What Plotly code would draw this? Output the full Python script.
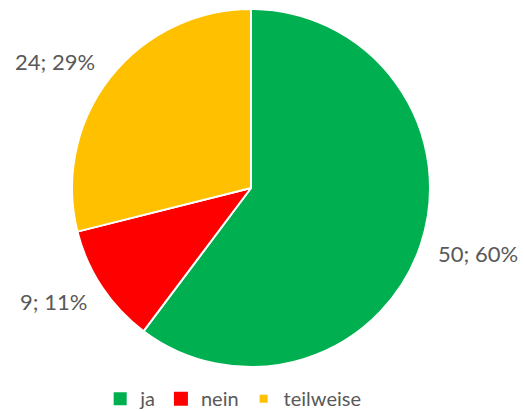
import math
import plotly.graph_objects as go

labels = ["ja", "nein", "teilweise"]
values = [50, 9, 24]
colors = ["#00B050", "#FF0000", "#FFC000"]
legend_sizes = [13, 14, 8]

W, H = 524, 412
CX, CY, R = 251, 188, 179  # pie centre / radius in pixels
FONT = "Lato, Roboto, sans-serif"
GREY = "#595959"

total = sum(values)
texts = [f"{v}; {round(v / total * 100)}%" for v in values]

fig = go.Figure()
fig.add_trace(go.Pie(
    labels=labels,
    values=values,
    textinfo="none",
    sort=False,
    direction="clockwise",
    rotation=0,
    showlegend=False,
    marker=dict(colors=colors, line=dict(color="white", width=2)),
    domain=dict(x=[(CX - R) / W, (CX + R) / W], y=[(H - CY - R) / H, (H - CY + R) / H]),
    hoverinfo="label+value+percent",
))

# legend entries as square markers
for lab, col, sz in zip(labels, colors, legend_sizes):
    fig.add_trace(go.Scatter(
        x=[None], y=[None], mode="markers", name=lab,
        marker=dict(symbol="square", size=sz, color=col),
    ))

# data labels outside the slices
start = 0
for v, t in zip(values, texts):
    mid = (start + v / 2) / total * 2 * math.pi
    start += v
    dx, dy = math.sin(mid), -math.cos(mid)
    px_ = CX + 1.09 * R * dx
    py_ = CY + 1.15 * R * dy
    fig.add_annotation(
        x=px_ / W, y=1 - py_ / H, xref="paper", yref="paper",
        text=t, showarrow=False,
        xanchor="left" if dx > 0 else "right", yanchor="middle",
        font=dict(size=22, color=GREY, family=FONT),
    )

fig.update_layout(
    width=W,
    height=H,
    paper_bgcolor="white",
    plot_bgcolor="white",
    font=dict(family=FONT, color=GREY),
    margin=dict(l=0, r=0, t=0, b=0, autoexpand=False),
    xaxis=dict(visible=False),
    yaxis=dict(visible=False),
    showlegend=True,
    legend=dict(
        orientation="h",
        x=0.445,
        xanchor="center",
        y=-0.015,
        yanchor="bottom",
        font=dict(size=20, color=GREY),
        itemwidth=30,
        tracegroupgap=0,
    ),
)

fig.write_html("out.html", config={"displayModeBar": False},
               post_script="document.body.style.margin='0';")
